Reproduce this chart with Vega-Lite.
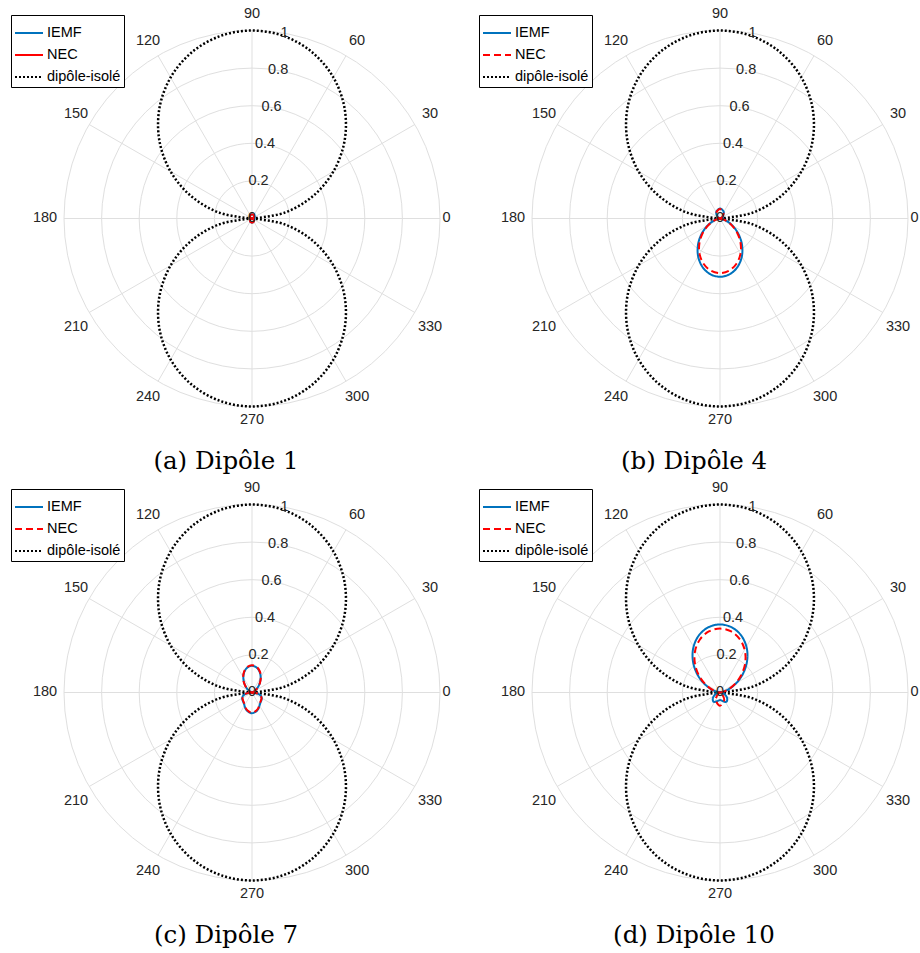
{
"$schema":"https://vega.github.io/schema/vega-lite/v6.json",
"padding":0,
"background":"white",
"bounds":"flush",
"columns":2,
"spacing":{"row":0,"column":16},
"config":{"view":{"stroke":null},"legend":{"title":null,"orient":"none","legendX":11,"legendY":15,"symbolType":"stroke","symbolSize":784,"symbolStrokeWidth":2,"labelFont":"Liberation Sans","labelFontSize":14.5,"labelColor":"black","strokeColor":"black","fillColor":"white","padding":3,"rowPadding":-3,"labelOffset":3}},
"resolve":{"scale":{"color":"independent","strokeDash":"independent"}},
"datasets":{
"rings":[{"r":0.2},{"r":0.4},{"r":0.6},{"r":0.8},{"r":1}],
"spokes":[{"x":1,"y":0,"x2":-1,"y2":0},{"x":0.86603,"y":0.5,"x2":-0.86603,"y2":-0.5},{"x":0.5,"y":0.86603,"x2":-0.5,"y2":-0.86603},{"x":0,"y":1,"x2":0,"y2":-1},{"x":-0.5,"y":0.86603,"x2":0.5,"y2":-0.86603},{"x":-0.86603,"y":0.5,"x2":0.86603,"y2":-0.5}],
"alab":[{"t":"0","x":1.035,"y":0},{"t":"30","x":0.947,"y":0.556},{"t":"60","x":0.559,"y":0.944},{"t":"90","x":0,"y":1.088},{"t":"120","x":-0.553,"y":0.944},{"t":"150","x":-0.936,"y":0.556},{"t":"180","x":-1.101,"y":0},{"t":"210","x":-0.936,"y":-0.577},{"t":"240","x":-0.553,"y":-0.949},{"t":"270","x":0,"y":-1.072},{"t":"300","x":0.559,"y":-0.949},{"t":"330","x":0.947,"y":-0.577},
{"t":"0","x":0,"y":0},{"t":"0.2","x":0.0347,"y":0.197},{"t":"0.4","x":0.0695,"y":0.394},{"t":"0.6","x":0.1042,"y":0.591},{"t":"0.8","x":0.1389,"y":0.788},{"t":"1","x":0.1736,"y":0.985}],
"dip":[
{"s":"dipôle-isolé","l":"u","i":0,"x":0,"y":0},{"s":"dipôle-isolé","l":"u","i":1,"x":0.17101,"y":0.03015},{"s":"dipôle-isolé","l":"u","i":2,"x":0.32139,"y":0.11698},{"s":"dipôle-isolé","l":"u","i":3,"x":0.43301,"y":0.25},{"s":"dipôle-isolé","l":"u","i":4,"x":0.4924,"y":0.41318},{"s":"dipôle-isolé","l":"u","i":5,"x":0.4924,"y":0.58682},{"s":"dipôle-isolé","l":"u","i":6,"x":0.43301,"y":0.75},{"s":"dipôle-isolé","l":"u","i":7,"x":0.32139,"y":0.88302},{"s":"dipôle-isolé","l":"u","i":8,"x":0.17101,"y":0.96985},{"s":"dipôle-isolé","l":"u","i":9,"x":0,"y":1},{"s":"dipôle-isolé","l":"u","i":10,"x":-0.17101,"y":0.96985},{"s":"dipôle-isolé","l":"u","i":11,"x":-0.32139,"y":0.88302},{"s":"dipôle-isolé","l":"u","i":12,"x":-0.43301,"y":0.75},{"s":"dipôle-isolé","l":"u","i":13,"x":-0.4924,"y":0.58682},{"s":"dipôle-isolé","l":"u","i":14,"x":-0.4924,"y":0.41318},{"s":"dipôle-isolé","l":"u","i":15,"x":-0.43301,"y":0.25},{"s":"dipôle-isolé","l":"u","i":16,"x":-0.32139,"y":0.11698},{"s":"dipôle-isolé","l":"u","i":17,"x":-0.17101,"y":0.03015},{"s":"dipôle-isolé","l":"u","i":18,"x":0,"y":0},
{"s":"dipôle-isolé","l":"d","i":0,"x":0,"y":0},{"s":"dipôle-isolé","l":"d","i":1,"x":0.17101,"y":-0.03015},{"s":"dipôle-isolé","l":"d","i":2,"x":0.32139,"y":-0.11698},{"s":"dipôle-isolé","l":"d","i":3,"x":0.43301,"y":-0.25},{"s":"dipôle-isolé","l":"d","i":4,"x":0.4924,"y":-0.41318},{"s":"dipôle-isolé","l":"d","i":5,"x":0.4924,"y":-0.58682},{"s":"dipôle-isolé","l":"d","i":6,"x":0.43301,"y":-0.75},{"s":"dipôle-isolé","l":"d","i":7,"x":0.32139,"y":-0.88302},{"s":"dipôle-isolé","l":"d","i":8,"x":0.17101,"y":-0.96985},{"s":"dipôle-isolé","l":"d","i":9,"x":0,"y":-1},{"s":"dipôle-isolé","l":"d","i":10,"x":-0.17101,"y":-0.96985},{"s":"dipôle-isolé","l":"d","i":11,"x":-0.32139,"y":-0.88302},{"s":"dipôle-isolé","l":"d","i":12,"x":-0.43301,"y":-0.75},{"s":"dipôle-isolé","l":"d","i":13,"x":-0.4924,"y":-0.58682},{"s":"dipôle-isolé","l":"d","i":14,"x":-0.4924,"y":-0.41318},{"s":"dipôle-isolé","l":"d","i":15,"x":-0.43301,"y":-0.25},{"s":"dipôle-isolé","l":"d","i":16,"x":-0.32139,"y":-0.11698},{"s":"dipôle-isolé","l":"d","i":17,"x":-0.17101,"y":-0.03015},{"s":"dipôle-isolé","l":"d","i":18,"x":0,"y":0}],
"pa":[
{"s":"IEMF","l":"u","i":0,"x":0,"y":0},{"s":"IEMF","l":"u","i":1,"x":0.0095,"y":0.0055},{"s":"IEMF","l":"u","i":2,"x":0.0095,"y":0.0165},{"s":"IEMF","l":"u","i":3,"x":0,"y":0.022},{"s":"IEMF","l":"u","i":4,"x":-0.0095,"y":0.0165},{"s":"IEMF","l":"u","i":5,"x":-0.0095,"y":0.0055},{"s":"IEMF","l":"u","i":6,"x":0,"y":0},
{"s":"IEMF","l":"d","i":0,"x":0,"y":0},{"s":"IEMF","l":"d","i":1,"x":0.0095,"y":-0.0055},{"s":"IEMF","l":"d","i":2,"x":0.0095,"y":-0.0165},{"s":"IEMF","l":"d","i":3,"x":0,"y":-0.022},{"s":"IEMF","l":"d","i":4,"x":-0.0095,"y":-0.0165},{"s":"IEMF","l":"d","i":5,"x":-0.0095,"y":-0.0055},{"s":"IEMF","l":"d","i":6,"x":0,"y":0},
{"s":"NEC","l":"u","i":0,"x":0,"y":0},{"s":"NEC","l":"u","i":1,"x":0.0095,"y":0.0055},{"s":"NEC","l":"u","i":2,"x":0.0095,"y":0.0165},{"s":"NEC","l":"u","i":3,"x":0,"y":0.022},{"s":"NEC","l":"u","i":4,"x":-0.0095,"y":0.0165},{"s":"NEC","l":"u","i":5,"x":-0.0095,"y":0.0055},{"s":"NEC","l":"u","i":6,"x":0,"y":0},
{"s":"NEC","l":"d","i":0,"x":0,"y":0},{"s":"NEC","l":"d","i":1,"x":0.0095,"y":-0.0055},{"s":"NEC","l":"d","i":2,"x":0.0095,"y":-0.0165},{"s":"NEC","l":"d","i":3,"x":0,"y":-0.022},{"s":"NEC","l":"d","i":4,"x":-0.0095,"y":-0.0165},{"s":"NEC","l":"d","i":5,"x":-0.0095,"y":-0.0055},{"s":"NEC","l":"d","i":6,"x":0,"y":0}],
"pb":[
{"s":"IEMF","l":"u","i":0,"x":0,"y":0},{"s":"IEMF","l":"u","i":1,"x":0.0115,"y":0.0066},{"s":"IEMF","l":"u","i":2,"x":0.0199,"y":0.0344},{"s":"IEMF","l":"u","i":3,"x":0,"y":0.053},{"s":"IEMF","l":"u","i":4,"x":-0.0199,"y":0.0344},{"s":"IEMF","l":"u","i":5,"x":-0.0115,"y":0.0066},{"s":"IEMF","l":"u","i":6,"x":0,"y":0},
{"s":"IEMF","l":"d","i":0,"x":0,"y":0},{"s":"IEMF","l":"d","i":1,"x":0.0092,"y":-0.0016},{"s":"IEMF","l":"d","i":2,"x":0.0341,"y":-0.0124},{"s":"IEMF","l":"d","i":3,"x":0.0671,"y":-0.0388},{"s":"IEMF","l":"d","i":4,"x":0.0981,"y":-0.0823},{"s":"IEMF","l":"d","i":5,"x":0.1169,"y":-0.1394},{"s":"IEMF","l":"d","i":6,"x":0.1163,"y":-0.2014},{"s":"IEMF","l":"d","i":7,"x":0.0936,"y":-0.2572},{"s":"IEMF","l":"d","i":8,"x":0.0522,"y":-0.2961},{"s":"IEMF","l":"d","i":9,"x":0,"y":-0.31},{"s":"IEMF","l":"d","i":10,"x":-0.0522,"y":-0.2961},{"s":"IEMF","l":"d","i":11,"x":-0.0936,"y":-0.2572},{"s":"IEMF","l":"d","i":12,"x":-0.1163,"y":-0.2014},{"s":"IEMF","l":"d","i":13,"x":-0.1169,"y":-0.1394},{"s":"IEMF","l":"d","i":14,"x":-0.0981,"y":-0.0823},{"s":"IEMF","l":"d","i":15,"x":-0.0671,"y":-0.0388},{"s":"IEMF","l":"d","i":16,"x":-0.0341,"y":-0.0124},{"s":"IEMF","l":"d","i":17,"x":-0.0092,"y":-0.0016},{"s":"IEMF","l":"d","i":18,"x":0,"y":0},
{"s":"NEC","l":"u","i":0,"x":0,"y":0},{"s":"NEC","l":"u","i":1,"x":0.0108,"y":0.0063},{"s":"NEC","l":"u","i":2,"x":0.0188,"y":0.0325},{"s":"NEC","l":"u","i":3,"x":0,"y":0.05},{"s":"NEC","l":"u","i":4,"x":-0.0188,"y":0.0325},{"s":"NEC","l":"u","i":5,"x":-0.0108,"y":0.0063},{"s":"NEC","l":"u","i":6,"x":0,"y":0},
{"s":"NEC","l":"d","i":0,"x":0,"y":0},{"s":"NEC","l":"d","i":1,"x":0.0086,"y":-0.0015},{"s":"NEC","l":"d","i":2,"x":0.0319,"y":-0.0116},{"s":"NEC","l":"d","i":3,"x":0.0628,"y":-0.0363},{"s":"NEC","l":"d","i":4,"x":0.0918,"y":-0.077},{"s":"NEC","l":"d","i":5,"x":0.1094,"y":-0.1304},{"s":"NEC","l":"d","i":6,"x":0.1088,"y":-0.1884},{"s":"NEC","l":"d","i":7,"x":0.0876,"y":-0.2406},{"s":"NEC","l":"d","i":8,"x":0.0488,"y":-0.277},{"s":"NEC","l":"d","i":9,"x":0,"y":-0.29},{"s":"NEC","l":"d","i":10,"x":-0.0488,"y":-0.277},{"s":"NEC","l":"d","i":11,"x":-0.0876,"y":-0.2406},{"s":"NEC","l":"d","i":12,"x":-0.1088,"y":-0.1884},{"s":"NEC","l":"d","i":13,"x":-0.1094,"y":-0.1304},{"s":"NEC","l":"d","i":14,"x":-0.0918,"y":-0.077},{"s":"NEC","l":"d","i":15,"x":-0.0628,"y":-0.0363},{"s":"NEC","l":"d","i":16,"x":-0.0319,"y":-0.0116},{"s":"NEC","l":"d","i":17,"x":-0.0086,"y":-0.0015},{"s":"NEC","l":"d","i":18,"x":0,"y":0}],
"pc":[
{"s":"IEMF","l":"u","i":0,"x":0,"y":0},{"s":"IEMF","l":"u","i":1,"x":0.0007,"y":0.0001},{"s":"IEMF","l":"u","i":2,"x":0.0053,"y":0.0019},{"s":"IEMF","l":"u","i":3,"x":0.0154,"y":0.0089},{"s":"IEMF","l":"u","i":4,"x":0.0289,"y":0.0242},{"s":"IEMF","l":"u","i":5,"x":0.041,"y":0.0489},{"s":"IEMF","l":"u","i":6,"x":0.0461,"y":0.0799},{"s":"IEMF","l":"u","i":7,"x":0.0403,"y":0.1107},{"s":"IEMF","l":"u","i":8,"x":0.0236,"y":0.1336},{"s":"IEMF","l":"u","i":9,"x":0,"y":0.142},{"s":"IEMF","l":"u","i":10,"x":-0.0236,"y":0.1336},{"s":"IEMF","l":"u","i":11,"x":-0.0403,"y":0.1107},{"s":"IEMF","l":"u","i":12,"x":-0.0461,"y":0.0799},{"s":"IEMF","l":"u","i":13,"x":-0.041,"y":0.0489},{"s":"IEMF","l":"u","i":14,"x":-0.0289,"y":0.0242},{"s":"IEMF","l":"u","i":15,"x":-0.0154,"y":0.0089},{"s":"IEMF","l":"u","i":16,"x":-0.0053,"y":0.0019},{"s":"IEMF","l":"u","i":17,"x":-0.0007,"y":0.0001},{"s":"IEMF","l":"u","i":18,"x":0,"y":0},
{"s":"IEMF","l":"d","i":0,"x":0,"y":0},{"s":"IEMF","l":"d","i":1,"x":-0.0295,"y":-0.0052},{"s":"IEMF","l":"d","i":2,"x":-0.047,"y":-0.0171},{"s":"IEMF","l":"d","i":3,"x":-0.052,"y":-0.03},{"s":"IEMF","l":"d","i":4,"x":-0.0498,"y":-0.0418},{"s":"IEMF","l":"d","i":5,"x":-0.045,"y":-0.0536},{"s":"IEMF","l":"d","i":6,"x":-0.04,"y":-0.0693},{"s":"IEMF","l":"d","i":7,"x":-0.0325,"y":-0.0893},{"s":"IEMF","l":"d","i":8,"x":-0.0182,"y":-0.1034},{"s":"IEMF","l":"d","i":9,"x":0,"y":-0.11},{"s":"IEMF","l":"d","i":10,"x":0.0182,"y":-0.1034},{"s":"IEMF","l":"d","i":11,"x":0.0325,"y":-0.0893},{"s":"IEMF","l":"d","i":12,"x":0.04,"y":-0.0693},{"s":"IEMF","l":"d","i":13,"x":0.045,"y":-0.0536},{"s":"IEMF","l":"d","i":14,"x":0.0498,"y":-0.0418},{"s":"IEMF","l":"d","i":15,"x":0.052,"y":-0.03},{"s":"IEMF","l":"d","i":16,"x":0.047,"y":-0.0171},{"s":"IEMF","l":"d","i":17,"x":0.0295,"y":-0.0052},{"s":"IEMF","l":"d","i":18,"x":0,"y":0},
{"s":"NEC","l":"u","i":0,"x":0,"y":0},{"s":"NEC","l":"u","i":1,"x":0.0007,"y":0.0001},{"s":"NEC","l":"u","i":2,"x":0.0055,"y":0.002},{"s":"NEC","l":"u","i":3,"x":0.0157,"y":0.0091},{"s":"NEC","l":"u","i":4,"x":0.0295,"y":0.0248},{"s":"NEC","l":"u","i":5,"x":0.0419,"y":0.0499},{"s":"NEC","l":"u","i":6,"x":0.0471,"y":0.0816},{"s":"NEC","l":"u","i":7,"x":0.0412,"y":0.1131},{"s":"NEC","l":"u","i":8,"x":0.024,"y":0.1364},{"s":"NEC","l":"u","i":9,"x":0,"y":0.145},{"s":"NEC","l":"u","i":10,"x":-0.024,"y":0.1364},{"s":"NEC","l":"u","i":11,"x":-0.0412,"y":0.1131},{"s":"NEC","l":"u","i":12,"x":-0.0471,"y":0.0816},{"s":"NEC","l":"u","i":13,"x":-0.0419,"y":0.0499},{"s":"NEC","l":"u","i":14,"x":-0.0295,"y":0.0248},{"s":"NEC","l":"u","i":15,"x":-0.0157,"y":0.0091},{"s":"NEC","l":"u","i":16,"x":-0.0055,"y":0.002},{"s":"NEC","l":"u","i":17,"x":-0.0007,"y":0.0001},{"s":"NEC","l":"u","i":18,"x":0,"y":0},
{"s":"NEC","l":"d","i":0,"x":0,"y":0},{"s":"NEC","l":"d","i":1,"x":-0.0286,"y":-0.005},{"s":"NEC","l":"d","i":2,"x":-0.0456,"y":-0.0166},{"s":"NEC","l":"d","i":3,"x":-0.0504,"y":-0.0291},{"s":"NEC","l":"d","i":4,"x":-0.0483,"y":-0.0405},{"s":"NEC","l":"d","i":5,"x":-0.0437,"y":-0.052},{"s":"NEC","l":"d","i":6,"x":-0.0388,"y":-0.0672},{"s":"NEC","l":"d","i":7,"x":-0.0315,"y":-0.0866},{"s":"NEC","l":"d","i":8,"x":-0.0177,"y":-0.1003},{"s":"NEC","l":"d","i":9,"x":0,"y":-0.107},{"s":"NEC","l":"d","i":10,"x":0.0177,"y":-0.1003},{"s":"NEC","l":"d","i":11,"x":0.0315,"y":-0.0866},{"s":"NEC","l":"d","i":12,"x":0.0388,"y":-0.0672},{"s":"NEC","l":"d","i":13,"x":0.0437,"y":-0.052},{"s":"NEC","l":"d","i":14,"x":0.0483,"y":-0.0405},{"s":"NEC","l":"d","i":15,"x":0.0504,"y":-0.0291},{"s":"NEC","l":"d","i":16,"x":0.0456,"y":-0.0166},{"s":"NEC","l":"d","i":17,"x":0.0286,"y":-0.005},{"s":"NEC","l":"d","i":18,"x":0,"y":0}],
"pd":[
{"s":"IEMF","l":"u","i":0,"x":0,"y":0},{"s":"IEMF","l":"u","i":1,"x":0.0112,"y":0.0019},{"s":"IEMF","l":"u","i":2,"x":0.0418,"y":0.0145},{"s":"IEMF","l":"u","i":3,"x":0.0823,"y":0.0453},{"s":"IEMF","l":"u","i":4,"x":0.1203,"y":0.0961},{"s":"IEMF","l":"u","i":5,"x":0.1433,"y":0.1627},{"s":"IEMF","l":"u","i":6,"x":0.1426,"y":0.2351},{"s":"IEMF","l":"u","i":7,"x":0.1148,"y":0.3004},{"s":"IEMF","l":"u","i":8,"x":0.0641,"y":0.3458},{"s":"IEMF","l":"u","i":9,"x":0,"y":0.362},{"s":"IEMF","l":"u","i":10,"x":-0.0641,"y":0.3458},{"s":"IEMF","l":"u","i":11,"x":-0.1148,"y":0.3004},{"s":"IEMF","l":"u","i":12,"x":-0.1426,"y":0.2351},{"s":"IEMF","l":"u","i":13,"x":-0.1433,"y":0.1627},{"s":"IEMF","l":"u","i":14,"x":-0.1203,"y":0.0961},{"s":"IEMF","l":"u","i":15,"x":-0.0823,"y":0.0453},{"s":"IEMF","l":"u","i":16,"x":-0.0418,"y":0.0145},{"s":"IEMF","l":"u","i":17,"x":-0.0112,"y":0.0019},{"s":"IEMF","l":"u","i":18,"x":0,"y":0},
{"s":"IEMF","l":"d","i":0,"x":0,"y":0},{"s":"IEMF","l":"d","i":1,"x":-0.0235,"y":-0.0086},{"s":"IEMF","l":"d","i":2,"x":-0.0383,"y":-0.0321},{"s":"IEMF","l":"d","i":3,"x":-0.0344,"y":-0.0491},{"s":"IEMF","l":"d","i":4,"x":-0.0171,"y":-0.047},{"s":"IEMF","l":"d","i":5,"x":0,"y":-0.04},{"s":"IEMF","l":"d","i":6,"x":0.0171,"y":-0.047},{"s":"IEMF","l":"d","i":7,"x":0.0344,"y":-0.0491},{"s":"IEMF","l":"d","i":8,"x":0.0383,"y":-0.0321},{"s":"IEMF","l":"d","i":9,"x":0.0235,"y":-0.0086},{"s":"IEMF","l":"d","i":10,"x":0,"y":0},
{"s":"NEC","l":"u","i":0,"x":0,"y":0},{"s":"NEC","l":"u","i":1,"x":0.0105,"y":0.0018},{"s":"NEC","l":"u","i":2,"x":0.0389,"y":0.0136},{"s":"NEC","l":"u","i":3,"x":0.0766,"y":0.0425},{"s":"NEC","l":"u","i":4,"x":0.1119,"y":0.0903},{"s":"NEC","l":"u","i":5,"x":0.1334,"y":0.1528},{"s":"NEC","l":"u","i":6,"x":0.1326,"y":0.2208},{"s":"NEC","l":"u","i":7,"x":0.1068,"y":0.2821},{"s":"NEC","l":"u","i":8,"x":0.0596,"y":0.3247},{"s":"NEC","l":"u","i":9,"x":0,"y":0.34},{"s":"NEC","l":"u","i":10,"x":-0.0596,"y":0.3247},{"s":"NEC","l":"u","i":11,"x":-0.1068,"y":0.2821},{"s":"NEC","l":"u","i":12,"x":-0.1326,"y":0.2208},{"s":"NEC","l":"u","i":13,"x":-0.1334,"y":0.1528},{"s":"NEC","l":"u","i":14,"x":-0.1119,"y":0.0903},{"s":"NEC","l":"u","i":15,"x":-0.0766,"y":0.0425},{"s":"NEC","l":"u","i":16,"x":-0.0389,"y":0.0136},{"s":"NEC","l":"u","i":17,"x":-0.0105,"y":0.0018},{"s":"NEC","l":"u","i":18,"x":0,"y":0},
{"s":"NEC","l":"d","i":0,"x":0,"y":0},{"s":"NEC","l":"d","i":1,"x":-0.0076,"y":-0.0044},{"s":"NEC","l":"d","i":2,"x":-0.0227,"y":-0.0394},{"s":"NEC","l":"d","i":3,"x":0,"y":-0.07},{"s":"NEC","l":"d","i":4,"x":0.0227,"y":-0.0394},{"s":"NEC","l":"d","i":5,"x":0.0076,"y":-0.0044},{"s":"NEC","l":"d","i":6,"x":0,"y":0}]
},
"concat":[
{"width":452,"height":474,
"title":{"text":"(a) Dipôle 1","orient":"bottom","anchor":"middle","font":"DejaVu Serif","fontSize":24.5,"fontWeight":"normal","color":"black","baseline":"alphabetic","offset":-5},
"layer":[
{"data":{"name":"rings"},"mark":{"type":"point","shape":"circle","filled":false,"color":"#dfdfdf","strokeWidth":1,"opacity":1},
"encoding":{"x":{"datum":0,"type":"quantitative","scale":{"domain":[-1.34043,1.06383],"nice":false,"zero":false},"axis":null},"y":{"datum":0,"type":"quantitative","scale":{"domain":[-1.35904,1.16223],"nice":false,"zero":false},"axis":null},"size":{"field":"r","type":"quantitative","scale":{"type":"pow","exponent":2,"domain":[0,1],"range":[0,141376]},"legend":null}}},
{"data":{"name":"spokes"},"mark":{"type":"rule","color":"#dfdfdf","strokeWidth":1},
"encoding":{"x":{"field":"x","type":"quantitative","scale":{"domain":[-1.34043,1.06383],"nice":false,"zero":false},"axis":null},"y":{"field":"y","type":"quantitative","scale":{"domain":[-1.35904,1.16223],"nice":false,"zero":false},"axis":null},"x2":{"field":"x2"},"y2":{"field":"y2"}}},
{"data":{"name":"dip"},"mark":{"type":"line","interpolate":"catmull-rom","strokeWidth":2.5},
"encoding":{"x":{"field":"x","type":"quantitative","scale":{"domain":[-1.34043,1.06383],"nice":false,"zero":false},"axis":null},"y":{"field":"y","type":"quantitative","scale":{"domain":[-1.35904,1.16223],"nice":false,"zero":false},"axis":null},"detail":{"field":"l","type":"nominal"},"order":{"field":"i","type":"quantitative"},
"color":{"field":"s","type":"nominal","scale":{"domain":["IEMF","NEC","dipôle-isolé"],"range":["#0072BD","#FF0000","#000000"]}},
"strokeDash":{"field":"s","type":"nominal","scale":{"domain":["IEMF","NEC","dipôle-isolé"],"range":[[1,0],[1,0],[2,2]]}}}},
{"data":{"name":"pa"},"mark":{"type":"line","interpolate":"catmull-rom","strokeWidth":2},
"encoding":{"x":{"field":"x","type":"quantitative","scale":{"domain":[-1.34043,1.06383],"nice":false,"zero":false},"axis":null},"y":{"field":"y","type":"quantitative","scale":{"domain":[-1.35904,1.16223],"nice":false,"zero":false},"axis":null},"detail":{"field":"l","type":"nominal"},"order":{"field":"i","type":"quantitative"},
"color":{"field":"s","type":"nominal","scale":{"domain":["IEMF","NEC","dipôle-isolé"],"range":["#0072BD","#FF0000","#000000"]}},
"strokeDash":{"field":"s","type":"nominal","scale":{"domain":["IEMF","NEC","dipôle-isolé"],"range":[[1,0],[1,0],[2,2]]}}}},
{"data":{"name":"alab"},"mark":{"type":"text","font":"Liberation Sans","fontSize":14.5,"color":"#262626","align":"center","baseline":"middle"},
"encoding":{"x":{"field":"x","type":"quantitative","scale":{"domain":[-1.34043,1.06383],"nice":false,"zero":false},"axis":null},"y":{"field":"y","type":"quantitative","scale":{"domain":[-1.35904,1.16223],"nice":false,"zero":false},"axis":null},"text":{"field":"t","type":"nominal"}}}
]},
{"width":452,"height":474,
"title":{"text":"(b) Dipôle 4","orient":"bottom","anchor":"middle","font":"DejaVu Serif","fontSize":24.5,"fontWeight":"normal","color":"black","baseline":"alphabetic","offset":-5},
"layer":[
{"data":{"name":"rings"},"mark":{"type":"point","shape":"circle","filled":false,"color":"#dfdfdf","strokeWidth":1,"opacity":1},
"encoding":{"x":{"datum":0,"type":"quantitative","scale":{"domain":[-1.34043,1.06383],"nice":false,"zero":false},"axis":null},"y":{"datum":0,"type":"quantitative","scale":{"domain":[-1.35904,1.16223],"nice":false,"zero":false},"axis":null},"size":{"field":"r","type":"quantitative","scale":{"type":"pow","exponent":2,"domain":[0,1],"range":[0,141376]},"legend":null}}},
{"data":{"name":"spokes"},"mark":{"type":"rule","color":"#dfdfdf","strokeWidth":1},
"encoding":{"x":{"field":"x","type":"quantitative","scale":{"domain":[-1.34043,1.06383],"nice":false,"zero":false},"axis":null},"y":{"field":"y","type":"quantitative","scale":{"domain":[-1.35904,1.16223],"nice":false,"zero":false},"axis":null},"x2":{"field":"x2"},"y2":{"field":"y2"}}},
{"data":{"name":"dip"},"mark":{"type":"line","interpolate":"catmull-rom","strokeWidth":2.5},
"encoding":{"x":{"field":"x","type":"quantitative","scale":{"domain":[-1.34043,1.06383],"nice":false,"zero":false},"axis":null},"y":{"field":"y","type":"quantitative","scale":{"domain":[-1.35904,1.16223],"nice":false,"zero":false},"axis":null},"detail":{"field":"l","type":"nominal"},"order":{"field":"i","type":"quantitative"},
"color":{"field":"s","type":"nominal","scale":{"domain":["IEMF","NEC","dipôle-isolé"],"range":["#0072BD","#FF0000","#000000"]}},
"strokeDash":{"field":"s","type":"nominal","scale":{"domain":["IEMF","NEC","dipôle-isolé"],"range":[[1,0],[7,4],[2,2]]}}}},
{"data":{"name":"pb"},"mark":{"type":"line","interpolate":"catmull-rom","strokeWidth":2},
"encoding":{"x":{"field":"x","type":"quantitative","scale":{"domain":[-1.34043,1.06383],"nice":false,"zero":false},"axis":null},"y":{"field":"y","type":"quantitative","scale":{"domain":[-1.35904,1.16223],"nice":false,"zero":false},"axis":null},"detail":{"field":"l","type":"nominal"},"order":{"field":"i","type":"quantitative"},
"color":{"field":"s","type":"nominal","scale":{"domain":["IEMF","NEC","dipôle-isolé"],"range":["#0072BD","#FF0000","#000000"]}},
"strokeDash":{"field":"s","type":"nominal","scale":{"domain":["IEMF","NEC","dipôle-isolé"],"range":[[1,0],[7,4],[2,2]]}}}},
{"data":{"name":"alab"},"mark":{"type":"text","font":"Liberation Sans","fontSize":14.5,"color":"#262626","align":"center","baseline":"middle"},
"encoding":{"x":{"field":"x","type":"quantitative","scale":{"domain":[-1.34043,1.06383],"nice":false,"zero":false},"axis":null},"y":{"field":"y","type":"quantitative","scale":{"domain":[-1.35904,1.16223],"nice":false,"zero":false},"axis":null},"text":{"field":"t","type":"nominal"}}}
]},
{"width":452,"height":474,
"title":{"text":"(c) Dipôle 7","orient":"bottom","anchor":"middle","font":"DejaVu Serif","fontSize":24.5,"fontWeight":"normal","color":"black","baseline":"alphabetic","offset":-5},
"layer":[
{"data":{"name":"rings"},"mark":{"type":"point","shape":"circle","filled":false,"color":"#dfdfdf","strokeWidth":1,"opacity":1},
"encoding":{"x":{"datum":0,"type":"quantitative","scale":{"domain":[-1.34043,1.06383],"nice":false,"zero":false},"axis":null},"y":{"datum":0,"type":"quantitative","scale":{"domain":[-1.35904,1.16223],"nice":false,"zero":false},"axis":null},"size":{"field":"r","type":"quantitative","scale":{"type":"pow","exponent":2,"domain":[0,1],"range":[0,141376]},"legend":null}}},
{"data":{"name":"spokes"},"mark":{"type":"rule","color":"#dfdfdf","strokeWidth":1},
"encoding":{"x":{"field":"x","type":"quantitative","scale":{"domain":[-1.34043,1.06383],"nice":false,"zero":false},"axis":null},"y":{"field":"y","type":"quantitative","scale":{"domain":[-1.35904,1.16223],"nice":false,"zero":false},"axis":null},"x2":{"field":"x2"},"y2":{"field":"y2"}}},
{"data":{"name":"dip"},"mark":{"type":"line","interpolate":"catmull-rom","strokeWidth":2.5},
"encoding":{"x":{"field":"x","type":"quantitative","scale":{"domain":[-1.34043,1.06383],"nice":false,"zero":false},"axis":null},"y":{"field":"y","type":"quantitative","scale":{"domain":[-1.35904,1.16223],"nice":false,"zero":false},"axis":null},"detail":{"field":"l","type":"nominal"},"order":{"field":"i","type":"quantitative"},
"color":{"field":"s","type":"nominal","scale":{"domain":["IEMF","NEC","dipôle-isolé"],"range":["#0072BD","#FF0000","#000000"]}},
"strokeDash":{"field":"s","type":"nominal","scale":{"domain":["IEMF","NEC","dipôle-isolé"],"range":[[1,0],[7,4],[2,2]]}}}},
{"data":{"name":"pc"},"mark":{"type":"line","interpolate":"catmull-rom","strokeWidth":2},
"encoding":{"x":{"field":"x","type":"quantitative","scale":{"domain":[-1.34043,1.06383],"nice":false,"zero":false},"axis":null},"y":{"field":"y","type":"quantitative","scale":{"domain":[-1.35904,1.16223],"nice":false,"zero":false},"axis":null},"detail":{"field":"l","type":"nominal"},"order":{"field":"i","type":"quantitative"},
"color":{"field":"s","type":"nominal","scale":{"domain":["IEMF","NEC","dipôle-isolé"],"range":["#0072BD","#FF0000","#000000"]}},
"strokeDash":{"field":"s","type":"nominal","scale":{"domain":["IEMF","NEC","dipôle-isolé"],"range":[[1,0],[7,4],[2,2]]}}}},
{"data":{"name":"alab"},"mark":{"type":"text","font":"Liberation Sans","fontSize":14.5,"color":"#262626","align":"center","baseline":"middle"},
"encoding":{"x":{"field":"x","type":"quantitative","scale":{"domain":[-1.34043,1.06383],"nice":false,"zero":false},"axis":null},"y":{"field":"y","type":"quantitative","scale":{"domain":[-1.35904,1.16223],"nice":false,"zero":false},"axis":null},"text":{"field":"t","type":"nominal"}}}
]},
{"width":452,"height":474,
"title":{"text":"(d) Dipôle 10","orient":"bottom","anchor":"middle","font":"DejaVu Serif","fontSize":24.5,"fontWeight":"normal","color":"black","baseline":"alphabetic","offset":-5},
"layer":[
{"data":{"name":"rings"},"mark":{"type":"point","shape":"circle","filled":false,"color":"#dfdfdf","strokeWidth":1,"opacity":1},
"encoding":{"x":{"datum":0,"type":"quantitative","scale":{"domain":[-1.34043,1.06383],"nice":false,"zero":false},"axis":null},"y":{"datum":0,"type":"quantitative","scale":{"domain":[-1.35904,1.16223],"nice":false,"zero":false},"axis":null},"size":{"field":"r","type":"quantitative","scale":{"type":"pow","exponent":2,"domain":[0,1],"range":[0,141376]},"legend":null}}},
{"data":{"name":"spokes"},"mark":{"type":"rule","color":"#dfdfdf","strokeWidth":1},
"encoding":{"x":{"field":"x","type":"quantitative","scale":{"domain":[-1.34043,1.06383],"nice":false,"zero":false},"axis":null},"y":{"field":"y","type":"quantitative","scale":{"domain":[-1.35904,1.16223],"nice":false,"zero":false},"axis":null},"x2":{"field":"x2"},"y2":{"field":"y2"}}},
{"data":{"name":"dip"},"mark":{"type":"line","interpolate":"catmull-rom","strokeWidth":2.5},
"encoding":{"x":{"field":"x","type":"quantitative","scale":{"domain":[-1.34043,1.06383],"nice":false,"zero":false},"axis":null},"y":{"field":"y","type":"quantitative","scale":{"domain":[-1.35904,1.16223],"nice":false,"zero":false},"axis":null},"detail":{"field":"l","type":"nominal"},"order":{"field":"i","type":"quantitative"},
"color":{"field":"s","type":"nominal","scale":{"domain":["IEMF","NEC","dipôle-isolé"],"range":["#0072BD","#FF0000","#000000"]}},
"strokeDash":{"field":"s","type":"nominal","scale":{"domain":["IEMF","NEC","dipôle-isolé"],"range":[[1,0],[7,4],[2,2]]}}}},
{"data":{"name":"pd"},"mark":{"type":"line","interpolate":"catmull-rom","strokeWidth":2},
"encoding":{"x":{"field":"x","type":"quantitative","scale":{"domain":[-1.34043,1.06383],"nice":false,"zero":false},"axis":null},"y":{"field":"y","type":"quantitative","scale":{"domain":[-1.35904,1.16223],"nice":false,"zero":false},"axis":null},"detail":{"field":"l","type":"nominal"},"order":{"field":"i","type":"quantitative"},
"color":{"field":"s","type":"nominal","scale":{"domain":["IEMF","NEC","dipôle-isolé"],"range":["#0072BD","#FF0000","#000000"]}},
"strokeDash":{"field":"s","type":"nominal","scale":{"domain":["IEMF","NEC","dipôle-isolé"],"range":[[1,0],[7,4],[2,2]]}}}},
{"data":{"name":"alab"},"mark":{"type":"text","font":"Liberation Sans","fontSize":14.5,"color":"#262626","align":"center","baseline":"middle"},
"encoding":{"x":{"field":"x","type":"quantitative","scale":{"domain":[-1.34043,1.06383],"nice":false,"zero":false},"axis":null},"y":{"field":"y","type":"quantitative","scale":{"domain":[-1.35904,1.16223],"nice":false,"zero":false},"axis":null},"text":{"field":"t","type":"nominal"}}}
]}
]
}
